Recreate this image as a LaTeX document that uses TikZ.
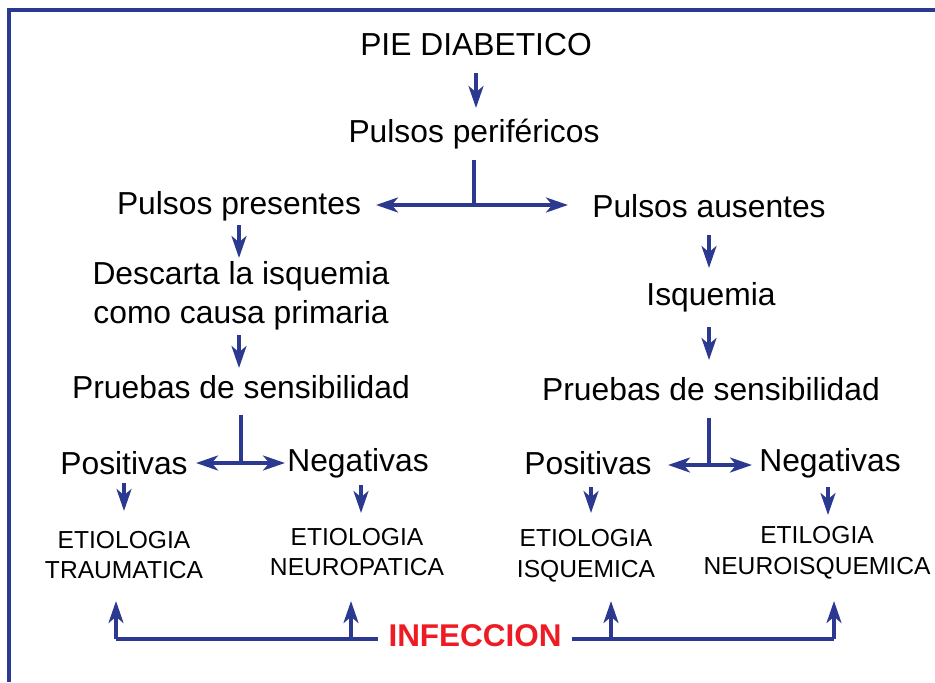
\documentclass[tikz,border=0pt]{standalone}
\usepackage{fontspec}
\setmainfont{Liberation Sans}
\usetikzlibrary{arrows.meta}
\definecolor{flowblue}{RGB}{43,57,144}
\definecolor{flowred}{RGB}{237,28,36}
\tikzset{
  every node/.style={inner sep=0pt, align=center},
  bigtext/.style={font=\fontsize{18.1}{22.5}\selectfont},
  smalltext/.style={font=\fontsize{14}{17.6}\selectfont},
  infecttext/.style={font=\fontsize{17.9}{22}\selectfont\bfseries, text=flowred},
  flow/.style={draw=flowblue, line width=2pt},
  flowarrow/.style={flow, -{Stealth[length=12.5pt, width=8.5pt, inset=3.5pt]}},
  flowboth/.style={flow, {Stealth[length=12.5pt, width=8.5pt, inset=3.5pt]}-{Stealth[length=12.5pt, width=8.5pt, inset=3.5pt]}},
  frame/.style={draw=flowblue, line width=2.8pt}
}
\begin{document}
\begin{tikzpicture}[x=0.02cm, y=-0.02cm]
\useasboundingbox (0,0) rectangle (935,682);

\draw[frame] (9,682) -- (9,10) -- (935,10);

\node[bigtext] (pie) at (476,45) {PIE DIABETICO};
\node[bigtext] (pulsos) at (474,134) {Pulsos periféricos};
\node[bigtext] (present) at (239,206) {Pulsos presentes};
\node[bigtext] (ausent) at (709,206) {Pulsos ausentes};
\node[bigtext] (descarta) at (241,296) {Descarta la isquemia\\como causa primaria};
\node[bigtext] (isq) at (711,297) {Isquemia};
\node[bigtext] (pruebasL) at (241,387) {Pruebas de sensibilidad};
\node[bigtext] (pruebasR) at (711,389) {Pruebas de sensibilidad};
\node[bigtext] (posL) at (124,463) {Positivas};
\node[bigtext] (negL) at (358,463) {Negativas};
\node[bigtext] (posR) at (588,463) {Positivas};
\node[bigtext] (negR) at (830,463) {Negativas};
\node[smalltext] (trauma) at (124,555) {ETIOLOGIA\\TRAUMATICA};
\node[smalltext] (neuro) at (357,552) {ETIOLOGIA\\NEUROPATICA};
\node[smalltext] (isquem) at (586,556) {ETIOLOGIA\\ISQUEMICA};
\node[smalltext] (neuroisq) at (817,553) {ETILOGIA\\NEUROISQUEMICA};
\node[infecttext] (infec) at (475,636) {INFECCION};

\coordinate (splitA) at (474,205);
\coordinate (splitL) at (241,463);
\coordinate (splitR) at (709,465);
\coordinate (infL) at (116,639);
\coordinate (infR) at (834,639);

\draw[flowarrow] (476,73) -- (476,108);
\draw[flow] (474,160) -- (splitA);
\draw[flowboth] (376,205) -- (568,205);
\draw[flowarrow] (239,225) -- (239,258);
\draw[flowarrow] (239,335) -- (239,368);
\draw[flow] (241,415) -- (splitL);
\draw[flowboth] (196,463) -- (285,463);
\draw[flowarrow] (124,483) -- (124,511);
\draw[flowarrow] (361,485) -- (361,513);
\draw[flowarrow] (709,235) -- (709,268);
\draw[flowarrow] (709,327) -- (709,360);
\draw[flow] (709,418) -- (splitR);
\draw[flowboth] (668,465) -- (752,465);
\draw[flowarrow] (591,487) -- (591,513);
\draw[flowarrow] (828,487) -- (828,515);

\draw[flow] (378,639) -- (infL);
\draw[flowarrow] (infL) -- (116,601);
\draw[flowarrow] (351,639) -- (351,601);
\draw[flow] (572,639) -- (infR);
\draw[flowarrow] (infR) -- (834,601);
\draw[flowarrow] (611,639) -- (611,601);
\end{tikzpicture}
\end{document}
